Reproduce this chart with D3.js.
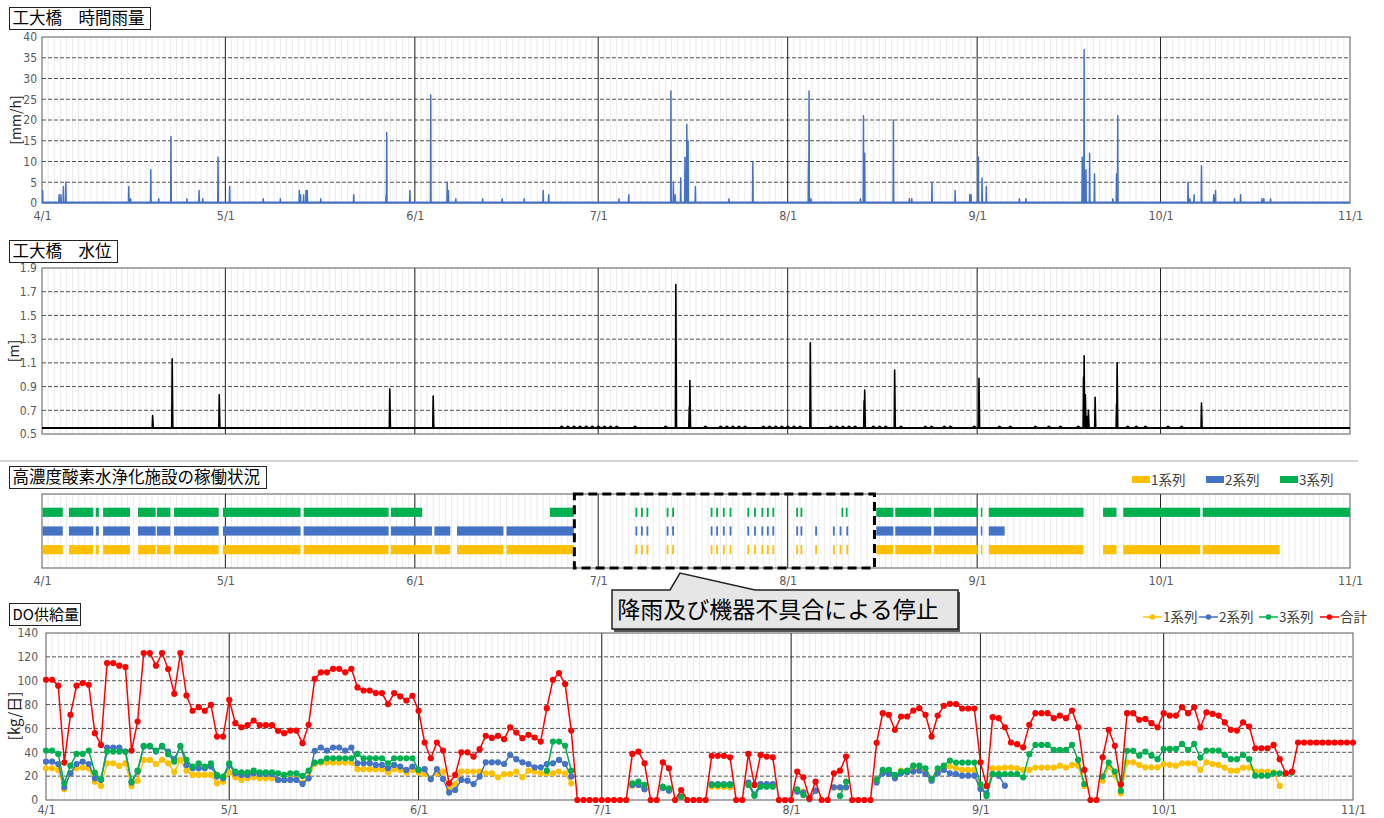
<!DOCTYPE html>
<html><head><meta charset="utf-8">
<script src="https://cdn.jsdelivr.net/npm/d3@7"></script>
<style>
body{margin:0;background:#fff}
svg text{font-family:"Noto Sans CJK JP","Noto Sans",sans-serif}
.tick text{font-family:"Liberation Sans Narrow","DejaVu Sans Condensed","Noto Sans CJK JP",sans-serif;fill:#595959}
</style>
</head><body>
<svg id="c" width="1384" height="818"></svg>
<script>
// ---------------- DATA ----------------
const monthLabels = ["4/1","5/1","6/1","7/1","8/1","9/1","10/1","11/1"];
const monthDays   = [0,30,61,91,122,153,183,214];   // days since 4/1

// hourly rainfall peaks (day since 4/1, mm/h)
const rainDays = [0.1,2.8,3.1,3.5,3.9,14.2,14.5,17.8,19.1,21.1,23.7,25.7,26.3,28.8,30.7,36.2,39.0,42.1,42.3,42.8,43.2,43.4,45.6,51.0,56.3,56.4,60.2,63.6,66.3,66.5,67.7,72.1,75.3,78.9,82.0,82.9,94.4,96.0,102.9,103.3,103.6,104.5,105.2,105.5,105.7,106.9,112.4,116.3,125.4,125.5,125.8,133.9,134.4,134.6,139.3,141.9,142.3,145.6,149.4,151.8,152.0,153.2,153.8,154.5,159.9,161.0,170.2,170.5,170.8,171.4,172.2,175.2,175.8,176.0,187.5,187.8,188.5,189.7,191.7,192.0,195.1,196.1,199.6,199.9,201.0];
const rainVals = [3,2,2,4,5,4,1,8,1,16,1,3,1,11,4,1,1,3,2,2,3,3,1,2,2,17,3,26,5,3,1,1,1,1,3,2,1,2,27,5,2,6,11,19,15,4,1,10,10,27,1,1,21,12,20,1,1,5,3,2,2,11,6,4,1,1,11,37,8,12,7,1,7,21,5,1,2,9,2,3,1,2,1,1,1];

// water level: base level and peaks (day, m)
const waterBase = 0.55;
const waterDays = [18.1,21.3,29.0,56.9,64.0,103.7,105.9,106.0,125.7,134.5,134.6,139.5,153.3,170.4,170.5,170.7,170.9,171.2,172.3,175.8,175.9,189.7];
const waterVals = [0.655,1.135,0.83,0.88,0.82,1.76,0.73,0.95,1.27,0.78,0.87,1.04,0.97,0.98,1.16,0.83,0.65,0.70,0.81,0.75,1.10,0.76];
const waterBumpDays = [85,86,87,88,89,90,91,92,93,94,97,102,108.5,111,112,113,114,115,118,119,120,121,122,123,124,129,130,131,132,133,136,137,138,140.5,144.5,145.5,147.6,148.6,152.5,156.6,158.4,162.5,164.7,166.6,169.5,177.6,179,180.5,184.2,186.4];
const waterBumpVal = 0.565;

// operating periods [start day, end day]
const ops1 = [[0.1,3.4],[4.4,8.4],[8.8,9.3],[10.0,14.4],[15.7,18.6],[18.8,21.0],[21.6,28.9],[29.6,42.3],[42.8,56.7],[57.1,63.8],[64.2,66.8],[67.9,75.5],[76.0,87.0],
  [97.1,97.4],[98.0,98.3],[98.9,99.2],[102.2,102.5],[103.1,103.4],[109.4,109.7],[110.3,110.6],[111.4,111.7],[112.5,112.8],[115.4,115.7],[116.5,116.8],[117.7,118.0],[118.6,118.9],[119.5,119.8],[123.4,123.7],[124.1,124.4],[126.5,126.8],[129.4,129.7],[130.5,130.8],[131.6,131.9],
  [136.5,139.3],[139.6,145.5],[145.9,153.1],[153.6,153.8],[154.9,170.4],[173.6,175.8],[176.9,189.5],[189.9,202.5]];
const ops2 = [[0.1,3.4],[4.4,8.4],[8.8,9.3],[10.0,14.4],[15.7,18.6],[18.8,21.0],[21.6,28.9],[29.6,42.3],[42.8,56.7],[57.1,63.8],[64.2,66.8],[67.9,75.5],[76.0,87.0],
  [97.1,97.4],[98.0,98.3],[98.9,99.2],[102.2,102.5],[103.1,103.4],[109.4,109.7],[110.3,110.6],[111.4,111.7],[112.5,112.8],[115.4,115.7],[116.5,116.8],[117.7,118.0],[118.6,118.9],[119.5,119.8],[123.4,123.7],[124.1,124.4],[126.5,126.8],[129.4,129.7],[130.5,130.8],[131.6,131.9],
  [136.5,139.3],[139.6,145.5],[145.9,153.1],[153.6,153.8],[154.9,157.5]];
const ops3 = [[0.1,3.4],[4.4,8.4],[8.8,9.3],[10.0,14.4],[15.7,18.6],[18.8,21.0],[21.6,28.9],[29.6,42.3],[42.8,56.7],[57.1,62.2],[83.1,87.0],
  [97.1,97.4],[98.0,98.3],[98.9,99.2],[102.2,102.5],[103.1,103.4],[109.4,109.7],[110.3,110.6],[111.4,111.7],[112.5,112.8],[115.4,115.7],[116.5,116.8],[117.7,118.0],[118.6,118.9],[119.5,119.8],[123.4,123.7],[124.1,124.4],[130.8,131.1],[131.5,131.8],
  [136.5,139.3],[139.6,145.5],[145.9,153.1],[153.6,153.8],[154.9,170.4],[173.6,175.8],[176.9,189.5],[189.9,214]];

// DO supply (kg/day), index = day since 4/1
const doTotal = [
100.8,100.8,95.8,31.4,71.4,95.8,98,96.6,56,46.2,
114.8,114.8,112.6,111.4,41.4,65.8,123.2,123.2,112.6,123.2,
109.8,89,123.2,87.6,74.8,77.8,74.8,79.8,53.2,53.2,
84,64.4,61,62.7,66.6,62.7,62.7,62.7,58,56,
58.2,58.2,47.6,63,101.6,107,107,110,110,107,
110,94.4,91.8,91.8,89.6,89.6,80.4,89.6,86.8,83.4,
87.4,74.8,48.2,35,48.2,41.4,14,21,40,40,
36.4,42.6,53.8,52,53.8,51,61,56.6,51.8,54.6,
52.4,49,77,100.8,106.4,97.2,58.2,0,0,0,
0,0,0,0,0,0,38.6,40.6,30.8,0,
0,31.6,26.6,0,8.4,0,0,0,0,37,
37,37,35.8,0,0,38.6,12.6,37.8,36.4,35.8,
0,0,0,23.8,19,1.4,15.4,0,0,22.4,
24.6,36.4,0,0,0,0,48,72.8,71.4,58.8,
70,70,75,77,71.4,53.2,70.8,79,80.6,80.4,
76.7,76.7,76.7,31.6,11.8,69.4,68.6,61,48.2,46.8,
44.2,63,72.8,72.8,72.8,68.6,70.8,68.6,75,61,
25.2,0,0,35.8,58.8,45.4,13.2,72.8,72.8,67.2,
68,64.4,61,72.8,70.8,70.8,77.8,72.8,77.8,60.8,
73.4,72.2,70.8,65,58.8,58.2,65,61.6,43.4,43.4,
43.4,46.2,34.2,22.4,23.8,48.2,48.2,48.2,48.2,48.2,
48.2,48.2,48.2,48.2,48.2];
const do1 = [
26.6,26.6,25.2,9,22.4,26.6,27.2,26.6,15.4,11.8,
30.8,30.8,28.6,30.8,11.8,16.2,33.6,33.6,30.2,33.6,
30.8,23.5,33.6,24.6,21,21,21,21,14,15.4,
23,19,16.8,18.2,19,18.2,18.2,18.2,16.8,16.8,
17.6,17.6,14.6,19,30.2,31.4,31.4,31.4,31.4,31.4,
31.4,25.8,25.8,25.8,25.8,25.8,23,25.8,25.2,23,
25.2,23,21.8,17.6,22.4,23.8,9,13.4,23.8,23.8,
23.8,23.8,22.4,22.4,19,21.8,21.8,23.8,19,24.6,
23.8,22.4,22.4,22.4,23.8,22.4,14,null,null,null,
null,null,null,null,null,null,12,12.6,9.2,null,
null,10.4,9,null,2.8,null,null,null,null,11.2,
11.2,11.2,10.6,null,null,14.6,4.6,13.4,13.4,13.4,
null,null,null,7.8,7,0.7,7.6,null,null,10.6,
10.6,10.6,null,null,null,null,15.4,24.6,23.8,19.6,
24.6,23.8,25.2,26,23.8,16.8,24.6,26.6,28,26.6,
25.2,25.2,25.2,10.6,4.2,26.6,26.6,27.2,27.2,26.6,
25.2,25.2,27.2,27.2,27.2,27.2,28.8,27.2,29.4,28.8,
11.8,null,null,16.2,28,21,5.6,31.6,31.6,29.4,
27.4,27.4,27.4,30,29.4,28.8,30.8,30.8,30.8,25.2,
31.6,30.2,29.4,27.2,24.6,24.6,27.2,27.2,23.8,23.8,
23.8,23.2,11.8];
const do2 = [
32.2,32.2,30.2,10.6,22.4,30.2,32.2,30.2,18.2,16.8,
44,44,44,40.6,14.6,23.8,44.8,44.8,40.6,44.8,
40.6,34.2,44.8,29.4,26.6,26.6,26.6,28,19.6,18.2,
29.4,22.4,21,21,22.4,21.8,21.8,21.8,16.8,16.8,
16.8,16.8,13.4,18.2,41.2,44,41.4,44,44,41.4,
44,30.8,30.8,30.8,29.4,29.4,26.6,29.4,28,25.2,
28,25.2,25.8,17.4,25.8,17.6,6.2,8.4,16.8,16.2,
13.4,19.6,31.6,31.6,31.6,30.2,37.8,34.2,31.6,30.2,
27.4,27.4,30.2,30.8,33.6,30.2,19.6,null,null,null,
null,null,null,null,null,null,12.6,12.6,9,null,
null,10,7.8,null,2.8,null,null,null,null,13.4,
13.4,13.4,13.4,null,null,14.6,4.5,13.4,13.4,13.4,
null,null,null,7,6.2,0.7,7.8,null,null,10.6,
10.6,10.6,null,null,null,null,14.6,22.4,21.8,18.2,
22.4,23.2,23.8,24.6,21.8,16.2,22.4,25.2,22.4,21.8,
20.4,20.4,20.4,9.2,5.6,21.8,20.4,12];
const do3 = [
41.4,41.4,38.6,14,28.8,38.6,38.6,41.4,23,17.4,
40.6,40.6,40.6,40.6,15.4,24.6,45.4,45.4,41.4,45.4,
38.4,32.2,45.4,33.6,28,30.8,28,30.8,21,19.6,
30.8,23.8,23.2,23.2,24.6,23.2,23.2,23.2,22.4,21,
22.4,22.4,20.2,24.6,31.4,32.2,35,35,35,35,
35,38.6,35,35,35,35,30.8,35,35,35,
35,25.2,null,null,null,null,null,null,null,null,
null,null,null,null,null,null,null,null,null,null,
null,null,24.6,49,49,45.4,24.6,null,null,null,
null,null,null,null,null,null,14,15.4,12.6,null,
null,11.2,9.8,null,2.8,null,null,null,null,12.6,
12.6,12.6,12.6,null,null,12.6,3.5,11.2,11.2,11.2,
null,null,null,9,4.2,null,null,null,null,null,
3.4,15.4,null,null,null,null,16.8,25.2,25.2,21,
23.8,24.6,28.8,28.8,26.6,17.6,26.6,28.8,33,31.4,
31.4,31.4,31.4,13.2,3.4,21.8,21.8,21.8,21.8,21.8,
19,38.4,46.2,46.2,46.2,42,42,42,46.2,33.6,
13.4,null,null,19.6,31.4,23.8,7.8,41.2,41.2,37.2,
40.6,37.2,34.2,42.8,42.8,42.8,47,42,47,35.6,
41.4,41.4,41.4,37.8,34.2,34.2,37.8,34.2,20.4,20.4,
20.4,22.4,22.4,22.4,23];

const seriesNames = ["1系列","2系列","3系列","合計"];
const seriesColors = ["#ffc000","#4472c4","#00b050","#ff0000"];

// ---------------- DRAWING ----------------
const svg = d3.select("#c");
const dayCount = 214;
const allDays = d3.range(1, dayCount);

function frame(x, y0, y1, name) {
  const g = svg.append("g");
  g.append("rect").attr("x", x.range()[0]).attr("y", y0).attr("width", x.range()[1]-x.range()[0]).attr("height", y1-y0).attr("fill","#fff");
  g.selectAll("line.day").data(allDays).join("line")
    .attr("x1", d=>x(d)).attr("x2", d=>x(d)).attr("y1", y0).attr("y2", y1)
    .attr("stroke", "#e6e6e6").attr("stroke-width", 0.8);
  svg.append("clipPath").attr("id", name).append("rect")
    .attr("x", x.range()[0]).attr("y", y0-1).attr("width", x.range()[1]-x.range()[0]).attr("height", y1-y0+1);
  return g;
}
function monthsAndBorder(g, x, y0, y1) {
  g.selectAll("line.mon").data(monthDays.slice(1,-1)).join("line")
    .attr("x1", d=>x(d)).attr("x2", d=>x(d)).attr("y1", y0).attr("y2", y1)
    .attr("stroke", "#222").attr("stroke-width", 1);
  g.append("rect").attr("x", x.range()[0]).attr("y", y0).attr("width", x.range()[1]-x.range()[0]).attr("height", y1-y0)
    .attr("fill","none").attr("stroke","#595959").attr("stroke-width",1);
}
function hgrid(g, x, y, vals) {
  g.selectAll("line.h").data(vals).join("line")
    .attr("x1", x.range()[0]).attr("x2", x.range()[1]).attr("y1", d=>y(d)).attr("y2", d=>y(d))
    .attr("stroke", "#404040").attr("stroke-width", 0.9).attr("stroke-dasharray", "4,2");
}
function xAxis(x, yPos) {
  const ax = svg.append("g").attr("transform", `translate(0,${yPos})`)
    .call(d3.axisBottom(x).tickValues(monthDays).tickFormat((d,i)=>monthLabels[i]).tickSize(0).tickPadding(0));
  ax.select(".domain").remove();
  ax.selectAll("text").attr("font-size", 12.5).attr("dy", "0.35em");
}
function yAxis(y, xPos, vals, fmt) {
  const ax = svg.append("g").attr("transform", `translate(${xPos},0)`)
    .call(d3.axisLeft(y).tickValues(vals).tickFormat(fmt).tickSize(0).tickPadding(0));
  ax.select(".domain").remove();
  ax.selectAll("text").attr("font-size", 12);
}
function titleBox(x, y, w, h, label, fs) {
  svg.append("rect").attr("x", x).attr("y", y).attr("width", w).attr("height", h)
    .attr("fill", "#fff").attr("stroke", "#222").attr("stroke-width", 1);
  svg.append("text").attr("x", x+3).attr("y", y+h/2).attr("dy","0.36em")
    .attr("font-size", fs).attr("fill","#000").text(label);
}
function yTitle(x, y, label, fs) {
  svg.append("text").attr("transform", `translate(${x},${y}) rotate(-90)`).attr("text-anchor","middle")
    .attr("dy","0.36em").attr("font-size", fs).attr("fill","#222").text(label);
}

// ---- Panel 1: rainfall ----
const x1 = d3.scaleLinear().domain([0, dayCount]).range([42, 1350]);
const yR = d3.scaleLinear().domain([0, 40]).range([203, 37]);
const g1 = frame(x1, 37, 203, "c1");
hgrid(g1, x1, yR, d3.range(5, 40, 5));
monthsAndBorder(g1, x1, 37, 203);
const rainPts = [[0,0]];
rainDays.forEach((d,i)=>{ rainPts.push([d-0.05,0],[d,rainVals[i]],[d+0.05,0]); });
rainPts.push([dayCount,0]);
svg.append("path").datum(rainPts).attr("clip-path","url(#c1)")
  .attr("fill","none").attr("stroke","#4472c4").attr("stroke-width",1.5).attr("stroke-linejoin","round")
  .attr("d", d3.line().x(d=>x1(d[0])).y(d=>yR(d[1])));
svg.append("line").attr("x1", x1(0)).attr("x2", x1(dayCount)).attr("y1", yR(0)-0.5).attr("y2", yR(0)-0.5)
  .attr("stroke","#4472c4").attr("stroke-width",2);
yAxis(yR, 37, d3.range(0, 41, 5), d=>d);
xAxis(x1, 216);
titleBox(9.5, 7.5, 141, 22, "工大橋　時間雨量", 16.5);
yTitle(16, 120, "[mm/h]", 14);

// ---- Panel 2: water level ----
const yW = d3.scaleLinear().domain([0.5, 1.9]).range([434, 268]);
const g2 = frame(x1, 268, 434, "c2");
hgrid(g2, x1, yW, [0.7,0.9,1.1,1.3,1.5,1.7]);
monthsAndBorder(g2, x1, 268, 434);
const wEvents = waterDays.map((d,i)=>[d, waterVals[i], 0.07])
  .concat(waterBumpDays.map(d=>[d, waterBumpVal, 0.3])).sort((a,b)=>a[0]-b[0]);
const wPts = [[0, waterBase]];
wEvents.forEach(e=>{ wPts.push([e[0]-e[2], waterBase],[e[0], e[1]],[e[0]+e[2]*1.5, waterBase]); });
wPts.push([dayCount, waterBase]);
svg.append("path").datum(wPts).attr("clip-path","url(#c2)")
  .attr("fill","none").attr("stroke","#000").attr("stroke-width",1.6).attr("stroke-linejoin","round")
  .attr("d", d3.line().x(d=>x1(d[0])).y(d=>yW(d[1])));
svg.append("line").attr("x1", x1(0)).attr("x2", x1(dayCount)).attr("y1", yW(waterBase)).attr("y2", yW(waterBase))
  .attr("stroke","#000").attr("stroke-width",2);
yAxis(yW, 37, [0.5,0.7,0.9,1.1,1.3,1.5,1.7,1.9], d3.format(".1f"));
titleBox(9.5, 240.5, 108, 22, "工大橋　水位", 16.5);
yTitle(14, 351, "[m]", 14);

// separator
svg.append("line").attr("x1",0).attr("x2",1358).attr("y1",461).attr("y2",461).attr("stroke","#d4d4d4").attr("stroke-width",2);

// ---- Panel 3: operation status ----
const g3 = frame(x1, 494, 568, "c3");
monthsAndBorder(g3, x1, 494, 568);
const rowY = d3.scalePoint().domain(["3系列","2系列","1系列"]).range([512.3, 549.7]);
const opsSets = [ops1, ops2, ops3];
opsSets.forEach((ops, k)=>{
  svg.append("g").attr("clip-path","url(#c3)").selectAll("rect").data(ops).join("rect")
    .attr("x", d=>x1(d[0])).attr("width", d=>Math.max(1.5, x1(d[1])-x1(d[0])))
    .attr("y", rowY(seriesNames[k])-4.6).attr("height", 9.2)
    .attr("fill", seriesColors[k]);
});
// dashed highlight box
svg.append("rect").attr("x", x1(87.1)).attr("y", 494).attr("width", x1(136.2)-x1(87.1)).attr("height", 74)
  .attr("fill","none").attr("stroke","#000").attr("stroke-width",3).attr("stroke-dasharray","9,5");
xAxis(x1, 581);
titleBox(9.5, 466.5, 257, 22, "高濃度酸素水浄化施設の稼働状況", 16.5);
// legend
const leg3 = svg.append("g");
[0,1,2].forEach(k=>{
  const lx = 1132 + k*74;
  leg3.append("rect").attr("x", lx).attr("y", 476).attr("width", 18).attr("height", 7).attr("fill", seriesColors[k]);
  leg3.append("text").attr("x", lx+19).attr("y", 480).attr("dy","0.36em").attr("font-size",13.5).attr("fill","#404040").text(seriesNames[k]);
});

// ---- callout ----
const callout = svg.append("g");
callout.append("path")
  .attr("d", "M614,592 L670,592 L680,575 L755,592 L960,592 L960,632 L614,632 Z")
  .attr("fill","#555");
callout.append("path")
  .attr("d", "M612,590 L670,590 L680,573 L755,590 L958,590 L958,629 L612,629 Z")
  .attr("fill","#e6e6e6").attr("stroke","#222").attr("stroke-width",1.5);
callout.append("text").attr("x", 778).attr("y", 610).attr("dy","0.36em").attr("text-anchor","middle")
  .attr("font-size", 23).attr("fill","#000").text("降雨及び機器不具合による停止");

// ---- Panel 4: DO supply ----
const x4 = d3.scaleLinear().domain([0, dayCount]).range([46, 1353]);
const yD = d3.scaleLinear().domain([0, 140]).range([800, 633]);
const g4 = frame(x4, 633, 800, "c4");
hgrid(g4, x4, yD, d3.range(20, 140, 20));
monthsAndBorder(g4, x4, 633, 800);
const doSets = [do1, do2, do3, doTotal];
const ln = d3.line().defined(d=>d[1]!=null).x(d=>x4(d[0])).y(d=>yD(d[1]));
doSets.forEach((arr, k)=>{
  const pts = arr.map((v,i)=>[i, v]);
  const g = svg.append("g");
  g.append("path").datum(pts).attr("fill","none").attr("stroke", seriesColors[k]).attr("stroke-width",1.5).attr("d", ln);
  g.selectAll("circle").data(pts.filter(d=>d[1]!=null)).join("circle")
    .attr("cx", d=>x4(d[0])).attr("cy", d=>yD(d[1])).attr("r", 3.1).attr("fill", seriesColors[k]);
});
yAxis(yD, 38, d3.range(0, 141, 20), d=>d);
xAxis(x4, 810);
titleBox(9.5, 603.5, 71, 22, "DO供給量", 15);
yTitle(15, 716, "[kg/日]", 15);
// legend
const leg4 = svg.append("g");
const legX = [1143, 1199, 1259, 1320];
seriesNames.forEach((n,k)=>{
  const lx = legX[k];
  leg4.append("line").attr("x1", lx).attr("x2", lx+19).attr("y1", 617).attr("y2", 617).attr("stroke", seriesColors[k]).attr("stroke-width",1.5);
  leg4.append("circle").attr("cx", lx+9.5).attr("cy", 617).attr("r", 2.8).attr("fill", seriesColors[k]);
  leg4.append("text").attr("x", lx+20).attr("y", 617).attr("dy","0.36em").attr("font-size",13.5).attr("fill","#404040").text(n);
});
</script>
</body></html>
